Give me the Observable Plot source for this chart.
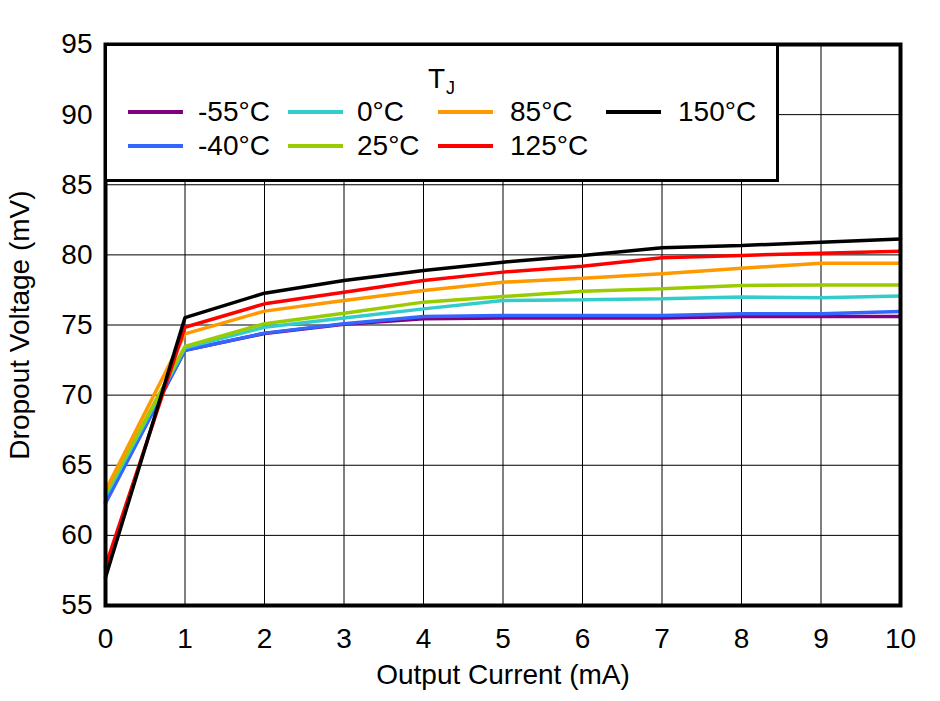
<!DOCTYPE html>
<html>
<head>
<meta charset="utf-8">
<script src="https://cdn.jsdelivr.net/npm/d3@7"></script>
<script src="https://cdn.jsdelivr.net/npm/@observablehq/plot@0.6"></script>
<style>
  body { margin: 0; background: #fff; font-family: "Liberation Sans", Arial, sans-serif; }
  #wrap { position: relative; width: 940px; height: 701px; }
  #legend { position: absolute; box-sizing: border-box; background: #fff; border: 3px solid #000; }
  .lg-item { position: absolute; font-size: 28px; line-height: 28px; color: #000; white-space: nowrap; }
  .lg-line { position: absolute; height: 4px; }
</style>
</head>
<body>
<div id="wrap"></div>
<script>
const current = [0, 1, 2, 3, 4, 5, 6, 7, 8, 9, 10];
const seriesNames = ["-55°C", "-40°C", "0°C", "25°C", "85°C", "125°C", "150°C"];
const seriesColors = ["#800080", "#3366FF", "#33CCCC", "#99CC00", "#FF9900", "#FF0000", "#000000"];
const vM55 = [62.4, 73.2, 74.4, 75.05, 75.45, 75.5, 75.5, 75.5, 75.6, 75.6, 75.6];
const vM40 = [62.3, 73.2, 74.42, 75.09, 75.6, 75.68, 75.68, 75.68, 75.8, 75.8, 75.96];
const v0 = [62.8, 73.37, 74.84, 75.5, 76.15, 76.75, 76.8, 76.87, 76.99, 76.94, 77.06];
const v25 = [63.0, 73.47, 75.09, 75.84, 76.63, 77.03, 77.41, 77.58, 77.82, 77.86, 77.86];
const v85 = [63.2, 74.37, 75.99, 76.75, 77.46, 78.05, 78.34, 78.65, 79.05, 79.41, 79.41];
const v125 = [57.8, 74.84, 76.51, 77.34, 78.17, 78.77, 79.19, 79.79, 79.96, 80.12, 80.26];
const v150 = [57.0, 75.53, 77.27, 78.17, 78.89, 79.48, 79.96, 80.5, 80.67, 80.9, 81.14];
const xTicks = [0, 1, 2, 3, 4, 5, 6, 7, 8, 9, 10];
const yTicks = [55, 60, 65, 70, 75, 80, 85, 90, 95];
const legendTitle = "T";
const legendSub = "J";

const allSeries = [vM55, vM40, v0, v25, v85, v125, v150];
const rows = [];
allSeries.forEach((vals, i) => {
  vals.forEach((v, j) => rows.push({ series: seriesNames[i], x: current[j], y: v }));
});

const plot = Plot.plot({
  width: 940,
  height: 701,
  marginLeft: 105,
  marginRight: 40,
  marginTop: 44,
  marginBottom: 96,
  style: { fontFamily: "'Liberation Sans', Arial, sans-serif", fontSize: "28px", background: "#fff", color: "#000" },
  x: { domain: [0, 10] },
  y: { domain: [55, 95] },
  color: { domain: seriesNames, range: seriesColors },
  marks: [
    Plot.gridX(xTicks, { stroke: "#000", strokeOpacity: 1, strokeWidth: 1 }),
    Plot.gridY(yTicks, { stroke: "#000", strokeOpacity: 1, strokeWidth: 1 }),
    Plot.line(rows, { x: "x", y: "y", z: "series", stroke: "series", strokeWidth: 3.5, strokeLinejoin: "miter" }),
    Plot.frame({ stroke: "#000", strokeWidth: 4 }),
    Plot.axisX({ ticks: xTicks, tickSize: 0, tickPadding: 23, fontSize: 28, label: "Output Current (mA)", labelAnchor: "center", labelArrow: "none", labelOffset: 78 }),
    Plot.axisY({ ticks: yTicks, tickSize: 0, tickPadding: 13, fontSize: 28, label: "Dropout Voltage (mV)", labelAnchor: "center", labelArrow: "none", labelOffset: 96 })
  ]
});

const wrap = document.getElementById("wrap");
wrap.appendChild(plot);

// Legend box overlay
const legend = document.createElement("div");
legend.id = "legend";
Object.assign(legend.style, { left: "104px", top: "43px", width: "675px", height: "139px" });
wrap.appendChild(legend);

const title = document.createElement("div");
title.className = "lg-item";
title.innerHTML = legendTitle + '<span style="font-size:18px;position:relative;top:6px;margin-left:1px">' + legendSub + '</span>';
Object.assign(title.style, { left: "321px", top: "19px" });
legend.appendChild(title);

const colLine = [21, 181, 331, 499];
const colText = [91, 250, 403, 571];
const rowText = [52, 86];
const rowLine = [66, 100];
const layout = [[0, 0], [0, 1], [1, 0], [1, 1], [2, 0], [2, 1], [3, 0]];
seriesNames.forEach((name, i) => {
  const [c, r] = layout[i];
  const ln = document.createElement("div");
  ln.className = "lg-line";
  Object.assign(ln.style, { left: colLine[c] + "px", top: (rowLine[r] - 2) + "px", width: "55px", background: seriesColors[i] });
  legend.appendChild(ln);
  const tx = document.createElement("div");
  tx.className = "lg-item";
  tx.textContent = name;
  Object.assign(tx.style, { left: colText[c] + "px", top: rowText[r] + "px" });
  legend.appendChild(tx);
});
</script>
</body>
</html>
